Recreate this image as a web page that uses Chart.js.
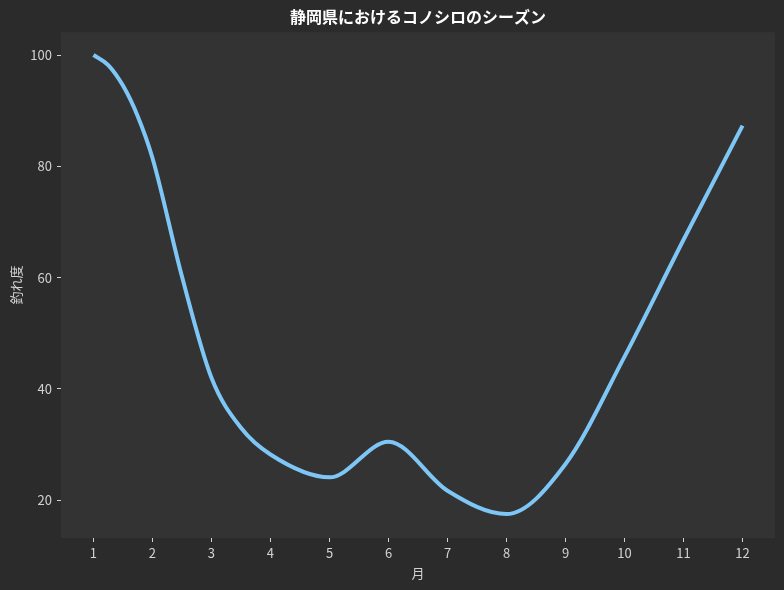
<!DOCTYPE html>
<html lang="ja">
<head>
    <meta charset="UTF-8">
    <title>静岡県におけるコノシロのシーズン</title>
    <script src="https://cdn.jsdelivr.net/npm/chart.js"></script>
    <style>
        html, body { margin: 0; padding: 0; background: #2b2b2b; }
        #wrap { width: 784px; height: 590px; }
    </style>
</head>
<body>
    <div id="wrap"><canvas id="seasonChart" width="784" height="590"></canvas></div>

    <script>
// 月ごとの釣れ度
const months = [1, 1.25, 1.5, 1.75, 2, 2.5, 3, 3.5, 4, 5, 6, 7, 8, 9, 10, 11, 12];
const catchScore = [100, 98.2, 94.5, 89.0, 81.5, 60.2, 42.0, 33.0, 28.2, 24.1, 30.5, 21.7, 17.5, 26.5, 45.8, 66.8, 87.3];
const monthTicks = [1, 2, 3, 4, 5, 6, 7, 8, 9, 10, 11, 12];
const scoreTicks = [20, 40, 60, 80, 100];

const fontFamily = '"Noto Sans CJK JP", "Noto Sans", sans-serif';
const tickColor = '#d2d2d2';

// プロット領域の背景色
const plotBg = {
    id: 'plotBg',
    beforeDraw(chart) {
        const { ctx, chartArea: a } = chart;
        ctx.save();
        ctx.fillStyle = '#333333';
        ctx.fillRect(a.left, a.top, a.right - a.left, a.bottom - a.top);
        ctx.restore();
    }
};

const ctx = document.getElementById('seasonChart').getContext('2d');
new Chart(ctx, {
    type: 'line',
    data: {
        datasets: [{
            label: '釣れ度',
            data: months.map((m, i) => ({ x: m, y: catchScore[i] })),
            borderColor: '#7ec6f5',
            borderWidth: 4,
            pointRadius: 0,
            fill: false,
            cubicInterpolationMode: 'monotone'
        }]
    },
    options: {
        responsive: false,
        animation: false,
        layout: { padding: { left: 0, right: 9, top: 0, bottom: 0 } },
        plugins: {
            legend: { display: false },
            tooltip: { enabled: false },
            title: {
                display: true,
                fullSize: false,
                text: '静岡県におけるコノシロのシーズン',
                color: '#ffffff',
                font: { family: fontFamily, size: 16, weight: 'bold' },
                padding: { top: 7, bottom: 6 }
            }
        },
        scales: {
            x: {
                type: 'linear',
                min: 0.45,
                max: 12.55,
                afterBuildTicks: s => { s.ticks = monthTicks.map(v => ({ value: v })); },
                afterFit: s => { s.height = 52; },
                grid: { drawOnChartArea: false, drawTicks: true, tickLength: 4, color: tickColor },
                border: { display: false },
                ticks: { color: tickColor, padding: 3, font: { family: fontFamily, size: 13 }, maxRotation: 0 },
                title: { display: true, text: '月', color: tickColor, padding: { top: 0, bottom: 9 }, font: { family: fontFamily, size: 13 } }
            },
            y: {
                min: 13.2,
                max: 104.1,
                afterBuildTicks: s => { s.ticks = scoreTicks.map(v => ({ value: v })); },
                afterFit: s => { s.width = 61; },
                grid: { drawOnChartArea: false, drawTicks: true, tickLength: 4, color: tickColor },
                border: { display: false },
                ticks: { color: tickColor, padding: 5, font: { family: fontFamily, size: 13 } },
                title: { display: true, text: '釣れ度', color: tickColor, padding: { top: 8, bottom: 0 }, font: { family: fontFamily, size: 13 } }
            }
        }
    },
    plugins: [plotBg]
});
    </script>
</body>
</html>
